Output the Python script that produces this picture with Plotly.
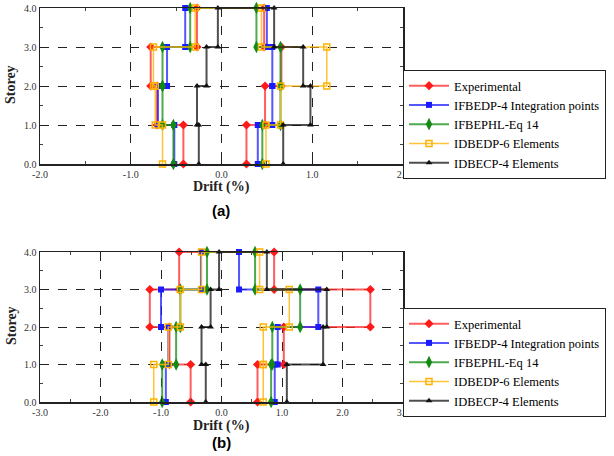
import plotly.graph_objects as go

W, H = 614, 456
OX, OY = 0, 0  # body margin removed by post_script

series_names = ["Experimental", "IFBEDP-4 Integration points", "IFBEPHL-Eq 14",
                "IDBEDP-6 Elements", "IDBECP-4 Elements"]

# storey drift (%) for storeys 1..4, negative and positive envelopes
a_exp_neg = [-0.42, -0.71, -0.78, -0.27]
a_exp_pos = [0.275, 0.48, 0.66, 0.47]
a_ifbedp_neg = [-0.52, -0.70, -0.60, -0.40]
a_ifbedp_pos = [0.40, 0.56, 0.56, 0.50]
a_ifbephl_neg = [-0.53, -0.65, -0.65, -0.345]
a_ifbephl_pos = [0.45, 0.65, 0.65, 0.385]
a_idbedp_neg = [-0.65, -0.73, -0.75, -0.29]
a_idbedp_pos = [0.49, 0.65, 1.16, 0.44]
a_idbecp_neg = [-0.25, -0.27, -0.165, -0.04]
a_idbecp_pos = [0.68, 0.98, 0.90, 0.58]

b_exp_neg = [-0.51, -0.86, -1.185, -0.70]
b_exp_pos = [0.595, 1.03, 2.46, 0.87]
b_ifbedp_neg = [-0.92, -0.88, -1.00, -0.34]
b_ifbedp_pos = [0.88, 0.93, 1.60, 0.29]
b_ifbephl_neg = [-0.98, -0.75, -0.68, -0.24]
b_ifbephl_pos = [0.82, 0.84, 1.30, 0.555]
b_idbedp_neg = [-1.12, -0.88, -0.68, -0.33]
b_idbedp_pos = [0.69, 0.69, 1.12, 0.63]
b_idbecp_neg = [-0.26, -0.33, -0.18, -0.04]
b_idbecp_pos = [1.08, 1.68, 1.74, 0.75]

storey_levels = [0, 1, 2, 3, 4]
y_ticks = [0, 1, 2, 3, 4]
y_ticklabels = ["0.0", "1.0", "2.0", "3.0", "4.0"]
x_ticks_a = [-2, -1, 0, 1, 2]
x_ticklabels_a = ["-2.0", "-1.0", "0.0", "1.0", "2.0"]
x_ticks_b = [-3, -2, -1, 0, 1, 2, 3]
x_ticklabels_b = ["-3.0", "-2.0", "-1.0", "0.0", "1.0", "2.0", "3.0"]

SERIF = "Liberation Serif, Times New Roman, DejaVu Serif, serif"

styles = [
    dict(line=dict(color="rgba(255,40,40,0.75)", width=2),
         marker=dict(symbol="diamond", size=7, color="#ff1a1a")),
    dict(line=dict(color="rgba(30,30,255,0.75)", width=2),
         marker=dict(symbol="square", size=6, color="#1a1aff")),
    dict(line=dict(color="rgba(20,140,20,0.75)", width=2),
         marker=dict(symbol="diamond-tall", size=9, color="#138a13")),
    dict(line=dict(color="rgba(255,185,20,0.85)", width=1.5),
         marker=dict(symbol="square-open", size=6, color="#ffb300", line=dict(width=1.5))),
    dict(line=dict(color="rgba(20,20,20,0.75)", width=2),
         marker=dict(symbol="triangle-up", size=6, color="#111111")),
]


def step_path(neg, pos):
    xs, ys = [], []
    for i, d in enumerate(neg):
        xs += [d, d]
        ys += [storey_levels[i], storey_levels[i + 1]]
    for i in range(len(pos) - 1, -1, -1):
        xs += [pos[i], pos[i]]
        ys += [storey_levels[i + 1], storey_levels[i]]
    return xs, ys


def px(x):
    return (x - OX) / W


def py(y):
    return 1 - (y - OY) / H


fig = go.Figure()

data_a = [(a_exp_neg, a_exp_pos), (a_ifbedp_neg, a_ifbedp_pos), (a_ifbephl_neg, a_ifbephl_pos),
          (a_idbedp_neg, a_idbedp_pos), (a_idbecp_neg, a_idbecp_pos)]
data_b = [(b_exp_neg, b_exp_pos), (b_ifbedp_neg, b_ifbedp_pos), (b_ifbephl_neg, b_ifbephl_pos),
          (b_idbedp_neg, b_idbedp_pos), (b_idbecp_neg, b_idbecp_pos)]

for k, (neg, pos) in enumerate(data_a):
    xs, ys = step_path(neg, pos)
    fig.add_trace(go.Scatter(x=xs, y=ys, mode="lines+markers", name=series_names[k],
                             xaxis="x", yaxis="y", legend="legend", cliponaxis=False,
                             **styles[k]))
for k, (neg, pos) in enumerate(data_b):
    xs, ys = step_path(neg, pos)
    fig.add_trace(go.Scatter(x=xs, y=ys, mode="lines+markers", name=series_names[k],
                             xaxis="x2", yaxis="y2", legend="legend2", cliponaxis=False,
                             **styles[k]))

xd = [px(40), px(403)]
ya = [py(164), py(8)]
yb = [py(402), py(252)]

tickfont = dict(family=SERIF, size=10, color="#333333")


def axis(domain, rng, tv, tt, anchor):
    return dict(domain=domain, range=rng, tickvals=tv, ticktext=tt, anchor=anchor,
                automargin=False,
                showgrid=True, gridcolor="#222222", griddash="dash", gridwidth=1,
                showline=True, linecolor="#222222", linewidth=1.5, mirror="allticks",
                ticks="inside", ticklen=4, tickcolor="#222222", tickfont=tickfont,
                zeroline=False, fixedrange=True,
                minor=dict(dtick=0.5, ticks="inside", ticklen=3, tickcolor="#444444",
                           showgrid=False))


legend_common = dict(x=px(403), xanchor="left", yanchor="top",
                     bgcolor="white", bordercolor="#222222", borderwidth=1,
                     font=dict(family=SERIF, size=12.5, color="black"),
                     itemwidth=40, tracegroupgap=0)

fig.update_layout(
    width=W, height=H, margin=dict(l=0, r=0, t=0, b=0, autoexpand=False),
    paper_bgcolor="white", plot_bgcolor="white",
    xaxis=axis(xd, [-2, 2], x_ticks_a, x_ticklabels_a, "y"),
    yaxis=axis(ya, [0, 4], y_ticks, y_ticklabels, "x"),
    xaxis2=axis(xd, [-3, 3], x_ticks_b, x_ticklabels_b, "y2"),
    yaxis2=axis(yb, [0, 4], y_ticks, y_ticklabels, "x2"),
    legend=dict(y=py(70), **legend_common),
    legend2=dict(y=py(308), **legend_common),
    showlegend=True,
)

title_font = dict(family=SERIF, size=14, color="#222222")
cap_font = dict(family="Liberation Sans, Arial, sans-serif", size=15, color="black")
annots = [
    dict(text="<b>Drift (%)</b>", x=px(221), y=py(187), font=title_font),
    dict(text="<b>Drift (%)</b>", x=px(221), y=py(426), font=title_font),
    dict(text="<b>Storey</b>", x=px(11), y=py(85), font=title_font, textangle=-90),
    dict(text="<b>Storey</b>", x=px(11), y=py(326), font=title_font, textangle=-90),
    dict(text="<b>(a)</b>", x=px(221), y=py(210), font=cap_font),
    dict(text="<b>(b)</b>", x=px(221), y=py(442), font=cap_font),
]
for a in annots:
    fig.add_annotation(xref="paper", yref="paper", showarrow=False,
                       xanchor="center", yanchor="middle", **a)

fig.write_html("out.html", config={"displayModeBar": False, "staticPlot": True},
               post_script="document.body.style.margin='0';document.body.style.overflow='hidden';")
